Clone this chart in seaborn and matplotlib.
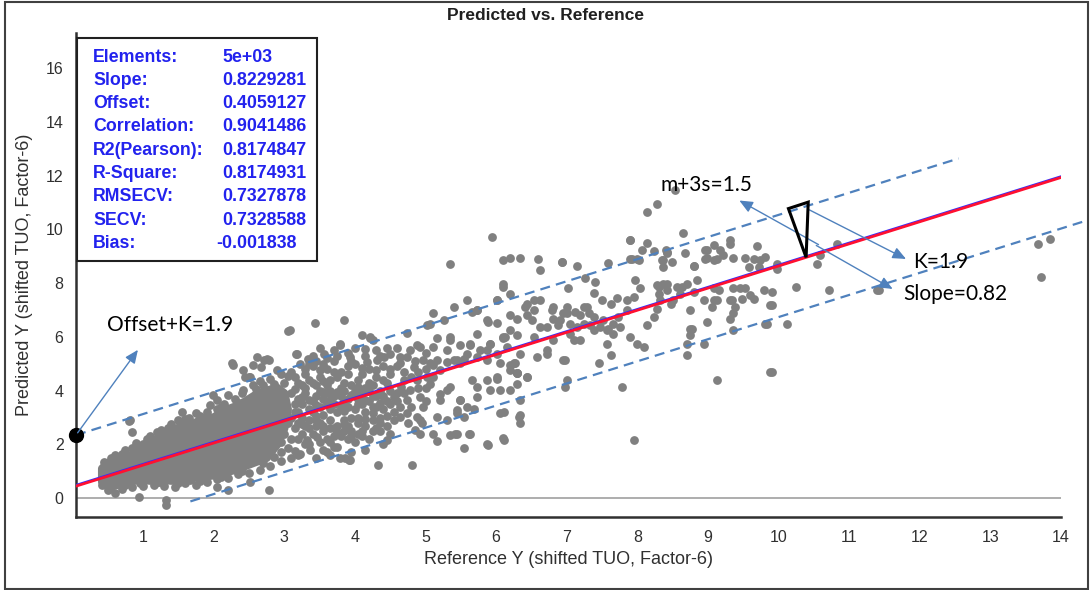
import numpy as np
import pandas as pd
import matplotlib
matplotlib.use("Agg")
import matplotlib.pyplot as plt
from matplotlib.patches import Rectangle, Polygon
import seaborn as sns

# ---- statistics shown in the info box ----
stat_names = ["Elements:", "Slope:", "Offset:", "Correlation:", "R2(Pearson):",
              "R-Square:", "RMSECV:", "SECV:", "Bias:"]
stat_values = ["5e+03", "0.8229281", "0.4059127", "0.9041486", "0.8174847",
               "0.8174931", "0.7327878", "0.7328588", "-0.001838"]

slope = 0.8229281
offset = 0.4059127
k_band = 1.9

# ---- point cloud ----
# solid core of the cloud (outline)
core_outline = [(0.42, 1.1), (0.5, 1.3), (0.65, 1.45), (0.8, 1.55), (0.95, 1.8), (1.1, 2.05),
                (1.25, 2.3), (1.4, 2.45), (1.55, 2.7), (1.7, 2.75), (1.85, 2.95), (2.0, 3.0),
                (2.15, 3.25), (2.3, 3.4), (2.45, 3.6), (2.6, 3.85), (2.75, 4.0), (2.9, 4.1),
                (3.0, 3.9), (3.05, 3.3), (3.0, 2.6), (2.9, 2.0), (2.75, 1.5), (2.6, 1.35),
                (2.45, 1.2), (2.3, 1.05), (2.15, 0.95), (2.0, 0.85), (1.85, 0.8), (1.7, 0.75),
                (1.55, 0.7), (1.4, 0.65), (1.25, 0.7), (1.1, 0.65), (0.95, 0.7), (0.8, 0.6),
                (0.65, 0.5), (0.5, 0.45), (0.42, 0.6)]

cloud_edge = [(0.45, 1.35), (0.55, 1.5), (0.7, 1.65), (0.85, 1.85), (1.0, 2.0), (1.1, 2.3),
              (1.25, 2.55), (1.4, 2.75), (1.5, 2.9), (1.65, 3.0), (1.75, 3.15), (1.9, 3.2),
              (2.05, 3.3), (2.15, 3.5), (2.3, 3.7), (2.4, 3.9), (2.55, 4.2), (2.65, 4.35),
              (2.8, 4.45), (2.95, 4.6), (3.1, 4.7), (1.55, 3.2), (1.95, 3.45), (2.5, 4.5),
              (2.2, 3.85), (0.42, 0.5), (0.5, 0.3), (0.6, 0.2), (0.7, 0.35), (0.85, 0.4),
              (1.0, 0.45), (1.15, 0.5), (1.3, 0.45), (1.45, 0.4), (1.6, 0.55), (1.75, 0.5),
              (1.9, 0.6), (2.05, 0.7), (2.2, 0.75), (2.35, 0.9), (2.5, 0.95), (2.65, 1.05),
              (2.8, 1.2), (2.95, 1.4), (3.1, 1.5), (3.2, 1.6), (0.6, 1.6), (0.75, 1.8),
              (1.05, 2.2), (1.2, 2.45), (1.35, 2.6), (1.6, 2.95), (1.8, 3.05), (2.1, 3.4),
              (2.35, 3.55), (2.6, 4.05), (2.7, 4.2), (0.55, 0.4), (0.75, 0.5), (0.95, 0.55),
              (1.2, 0.6), (1.5, 0.55), (1.8, 0.65), (2.1, 0.8), (2.4, 1.0), (2.7, 1.3),
              (2.95, 3.6), (3.0, 3.2), (3.05, 2.8), (3.0, 2.4), (2.95, 2.1), (3.1, 3.9),
              (3.15, 3.5), (3.1, 3.0), (3.15, 2.6), (3.1, 2.2), (3.05, 1.85), (3.2, 4.3),
              (3.2, 3.7), (3.2, 3.2), (3.2, 2.8), (3.2, 2.2), (3.15, 1.75), (2.95, 1.7),
              (2.85, 1.55), (3.0, 4.3), (2.85, 4.25), (3.05, 4.55)]

low_range = [(3.05, 6.22), (2.26, 5.02), (0.80, 2.87), (0.90, 2.06), (0.94, 0.03), (1.32, -0.05),
             (1.32, -0.26), (2.78, 0.32), (2.2, 0.32), (2.39, 1.30), (2.67, 4.88), (2.79, 5.13),
             (2.89, 4.76), (2.51, 4.51), (2.41, 4.01), (2.04, 3.64), (1.99, 3.83), (3.17, 5.38),
             (3.22, 5.0), (2.04, 0.42), (2.51, 0.61), (1.66, 0.67), (1.23, 0.61), (0.76, 0.92),
             (2.28, 4.94), (2.42, 4.76), (2.45, 4.51), (2.56, 4.94), (2.71, 5.13), (2.75, 5.19),
             (2.61, 5.25), (0.82, 2.90), (0.84, 2.47)]

mid_range = [(3.44, 6.52), (3.85, 6.62), (3.08, 6.25), (4.22, 5.97), (3.79, 5.69), (3.70, 5.50),
             (3.56, 5.38), (3.18, 5.38), (3.34, 5.19), (3.93, 5.25), (4.17, 5.07), (4.31, 5.13),
             (4.41, 5.25), (4.5, 5.38), (4.64, 5.25), (4.78, 5.5), (4.88, 5.69), (4.74, 6.15),
             (4.10, 6.06), (4.22, 6.0), (4.26, 5.87), (3.79, 5.75), (4.33, 1.23), (4.81, 1.23),
             (4.45, 2.16), (3.86, 1.48), (3.93, 1.41), (3.79, 1.48), (3.91, 1.41), (3.70, 1.91),
             (3.60, 1.72), (3.37, 1.78), (3.32, 2.16), (3.46, 2.28), (3.22, 1.66),
             (3.3, 4.6), (3.4, 4.9), (3.5, 4.5), (3.6, 4.8), (3.7, 5.1), (3.8, 4.7), (3.9, 4.9),
             (4.0, 5.0), (4.1, 4.6), (4.2, 4.8), (4.3, 4.5), (4.4, 4.9), (4.5, 4.6), (3.45, 5.1),
             (3.65, 4.4), (3.85, 4.3), (4.05, 4.4), (4.25, 4.2), (4.45, 4.3), (4.6, 4.9),
             (3.3, 3.9), (3.4, 3.6), (3.5, 4.0), (3.6, 3.5), (3.7, 3.8), (3.8, 3.4), (3.9, 3.7),
             (4.0, 3.3), (4.1, 3.9), (4.2, 3.6), (4.3, 3.4), (4.4, 3.8), (4.5, 3.5), (4.6, 3.9),
             (3.35, 3.3), (3.55, 3.1), (3.75, 3.2), (3.95, 3.0), (4.15, 3.2), (4.35, 3.0),
             (4.55, 3.2), (3.3, 2.7), (3.4, 2.4), (3.5, 2.8), (3.6, 2.2), (3.7, 2.6), (3.8, 2.3),
             (3.9, 2.7), (4.0, 2.1), (4.1, 2.5), (4.2, 2.2), (4.3, 2.6), (4.4, 2.0), (4.5, 2.4),
             (3.35, 2.0), (3.55, 1.8), (3.75, 1.9), (3.95, 1.7), (4.15, 1.8), (4.35, 2.5),
             (3.45, 1.5), (3.65, 1.6), (4.05, 2.8), (4.25, 2.9), (3.25, 4.2), (3.35, 4.4),
             (3.45, 4.2), (3.55, 4.35), (3.65, 4.0), (3.75, 4.5), (3.85, 4.0), (3.95, 4.2),
             (4.05, 3.7), (4.15, 4.1), (4.35, 4.0), (3.25, 3.5), (3.45, 3.8), (3.55, 3.7),
             (3.65, 3.3), (3.85, 3.6), (4.05, 3.5), (4.25, 3.4), (3.25, 3.0), (3.45, 2.9),
             (3.65, 2.9), (3.85, 2.9), (3.25, 2.4), (3.5, 2.1), (3.7, 2.3), (3.9, 2.2), (4.1, 2.3),
             (3.3, 2.0), (3.4, 3.2), (3.6, 3.9), (3.8, 3.8), (4.0, 4.0), (4.2, 4.3), (4.4, 4.4),
             (3.3, 4.1), (3.4, 4.3), (3.5, 3.4), (3.6, 4.2), (3.7, 3.5), (3.8, 4.1), (3.9, 3.4),
             (4.0, 3.8), (4.1, 3.5), (4.2, 4.0), (4.3, 3.8), (4.4, 3.3), (4.5, 4.0), (4.6, 3.6),
             (3.35, 2.6), (3.45, 2.7), (3.55, 2.5), (3.65, 2.1), (3.75, 2.7), (3.85, 2.5),
             (3.95, 2.5), (4.05, 2.4), (4.15, 2.7), (4.25, 2.5), (4.45, 2.7), (4.55, 2.9),
             (3.4, 5.3), (3.6, 5.2), (3.9, 5.4), (4.0, 5.6), (4.3, 5.5), (4.6, 5.6), (3.5, 5.6),
             (4.15, 5.3), (4.45, 5.6), (3.15, 4.05), (3.25, 3.75), (3.35, 3.65), (3.45, 3.45),
             (3.55, 3.95), (3.65, 3.65), (3.75, 3.95), (3.85, 3.25), (3.95, 3.85), (4.05, 4.15),
             (4.15, 3.65), (4.25, 3.8), (4.35, 3.55), (4.45, 3.6), (4.55, 3.75), (3.15, 3.2),
             (3.25, 2.75), (3.35, 2.9), (3.45, 3.05), (3.55, 2.7), (3.65, 2.6), (3.75, 2.45),
             (3.85, 2.75), (3.95, 2.3), (4.05, 3.0), (4.15, 2.95), (4.25, 3.15), (4.35, 2.8),
             (4.45, 3.05), (3.3, 4.8), (3.5, 4.75), (3.7, 4.7), (3.9, 4.6), (4.1, 4.85),
             (4.3, 4.75), (4.5, 4.8), (3.15, 4.5), (3.35, 5.0), (3.55, 5.0), (3.75, 5.3),
             (3.95, 5.1), (4.15, 5.55), (4.35, 5.3)]

upper_range = [(4.64, 5.01), (4.74, 5.25), (4.83, 4.88), (4.69, 4.39), (4.78, 4.01), (4.92, 3.77),
               (4.97, 3.39), (4.88, 3.02), (4.74, 3.15), (5.11, 5.62), (5.16, 5.13), (5.21, 4.76),
               (5.30, 5.50), (5.35, 6.0), (5.40, 5.13), (5.49, 5.01), (5.59, 5.38), (5.63, 5.69),
               (5.73, 6.12), (5.77, 5.50), (5.87, 5.13), (5.92, 5.75), (6.01, 5.38), (6.06, 5.01),
               (6.10, 6.0), (6.15, 5.62), (6.20, 4.76), (6.25, 5.01), (6.29, 4.64), (6.34, 5.38),
               (6.44, 4.51), (6.29, 4.26), (6.01, 4.51), (6.06, 4.01), (5.87, 4.39), (5.73, 4.14),
               (5.66, 4.39), (5.68, 3.33), (5.49, 3.64), (5.44, 3.27), (5.54, 3.02), (5.21, 3.64),
               (5.16, 3.02), (5.30, 4.01), (5.02, 4.51), (5.07, 5.01), (4.92, 5.62), (5.26, 6.62),
               (5.11, 6.87), (5.40, 7.11), (5.59, 7.36), (5.73, 6.99), (5.87, 6.62), (6.01, 7.36),
               (6.20, 7.61), (6.44, 7.24), (6.53, 6.99), (6.62, 7.36), (6.81, 7.11), (6.91, 6.62),
               (7.0, 6.87), (7.05, 6.12), (7.14, 6.37), (7.24, 6.49), (7.38, 6.74), (7.47, 6.37),
               (7.57, 6.25), (7.66, 6.49), (7.29, 7.11), (6.72, 6.37), (6.81, 5.87), (7.10, 5.87),
               (6.53, 6.0), (6.58, 5.25), (6.72, 5.50), (6.95, 5.13), (7.0, 4.39), (7.19, 5.87),
               (5.34, 8.70), (6.10, 8.85), (6.2, 8.95), (6.10, 7.98), (6.10, 7.86), (6.01, 7.36),
               (5.66, 6.93), (5.73, 6.99), (5.89, 6.55), (6.01, 6.52), (6.2, 6.8), (6.3, 6.68),
               (5.02, 6.43), (5.07, 6.49), (5.16, 5.94), (5.35, 5.87), (5.49, 5.69), (5.63, 5.75),
               (5.92, 5.75), (6.1, 5.94), (6.2, 6.25), (6.3, 6.06), (4.97, 5.13), (5.11, 4.94),
               (5.30, 5.07), (5.44, 5.13), (5.54, 5.19), (5.73, 5.25), (5.87, 5.5), (4.88, 4.39),
               (5.07, 4.26), (5.21, 3.89), (5.35, 4.14), (5.49, 3.64), (5.59, 3.39), (5.73, 3.77),
               (6.01, 4.45), (5.92, 4.01), (4.95, 2.78), (5.30, 2.90), (5.44, 3.15), (5.11, 2.40),
               (5.16, 2.13), (5.35, 2.34), (5.44, 2.40), (5.63, 2.40), (5.54, 1.85), (5.87, 2.03),
               (6.1, 2.22), (6.06, 3.15), (6.2, 4.94), (6.3, 4.64), (6.2, 4.01), (6.34, 3.09),
               (6.34, 2.78), (5.89, 1.97), (4.64, 3.39), (4.64, 3.02), (4.74, 3.64), (4.92, 2.40),
               (5.42, 2.40), (5.61, 2.40), (4.92, 2.90), (5.94, 9.71), (4.7, 4.7), (4.8, 4.5),
               (4.9, 4.7), (5.0, 4.8), (4.7, 3.9), (4.8, 3.4), (4.9, 4.1), (5.0, 3.6), (5.1, 4.5),
               (4.75, 2.8), (4.85, 2.55), (5.0, 4.1), (4.65, 4.15), (4.85, 5.1), (5.0, 5.4)]

high_range = [(8.28, 10.93), (8.14, 10.64), (8.65, 9.86), (7.90, 9.59), (8.14, 9.49), (8.06, 9.24),
              (8.23, 9.19), (8.42, 9.16), (7.92, 8.91), (8.02, 8.87), (8.37, 8.85), (8.49, 8.78),
              (7.59, 8.75), (7.14, 8.65), (6.93, 8.78), (6.6, 8.91), (6.62, 8.48), (6.34, 8.95),
              (7.26, 8.20), (7.40, 8.04), (7.02, 7.80), (7.38, 7.63), (7.5, 7.36), (7.62, 7.24),
              (7.71, 7.46), (7.85, 7.36), (7.95, 7.48), (8.04, 7.80), (7.97, 8.10), (8.28, 7.92),
              (8.37, 7.98), (8.30, 7.61), (8.42, 7.73), (8.63, 7.86), (8.70, 7.98), (8.84, 8.13),
              (8.8, 8.62), (8.99, 9.22), (9.08, 9.41), (9.17, 9.22), (8.96, 8.91), (9.08, 8.85),
              (9.15, 7.73), (9.08, 7.36), (8.94, 7.36), (9.06, 7.11), (6.41, 7.11), (6.44, 6.80),
              (6.51, 6.62), (6.53, 7.36), (6.62, 6.37), (6.79, 6.99), (6.81, 6.68), (6.88, 6.43),
              (6.95, 6.87), (7.0, 7.11), (7.05, 6.49), (7.12, 6.93), (7.19, 6.80), (7.24, 7.11),
              (7.31, 6.87), (7.33, 6.43), (7.38, 6.25), (7.52, 6.62), (7.59, 6.31), (7.66, 6.12),
              (7.73, 6.74), (7.76, 6.37), (7.85, 6.99), (7.90, 6.0), (7.99, 5.75), (8.09, 5.62),
              (8.14, 6.43), (8.23, 6.74), (8.28, 7.05), (8.32, 7.36), (8.47, 7.24), (8.51, 7.36),
              (8.61, 7.61), (8.75, 6.99), (8.77, 6.31), (8.75, 6.06), (8.70, 5.75), (6.13, 6.0),
              (6.27, 5.01), (6.29, 4.64), (6.44, 4.51), (6.98, 5.13), (6.98, 4.14), (7.45, 5.01),
              (7.62, 5.32), (7.78, 4.14), (7.57, 5.75), (6.72, 5.38), (6.34, 3.64), (6.11, 3.21),
              (6.32, 3.02), (6.11, 2.18), (7.95, 2.18), (9.13, 4.39), (8.70, 5.32), (9.88, 4.7),
              (10.12, 6.49), (9.84, 6.49), (9.88, 7.17), (9.36, 6.87), (9.31, 7.36), (8.99, 6.55),
              (8.75, 6.31), (10.24, 7.86), (9.6, 7.55), (9.46, 7.80), (9.08, 7.80), (9.13, 7.36),
              (8.80, 7.67), (8.56, 7.86), (8.42, 7.98), (8.30, 7.86), (8.94, 5.75), (8.54, 11.45),
              (7.90, 9.62), (8.40, 9.22), (8.42, 9.10), (8.68, 9.10), (6.94, 8.78), (7.90, 8.91),
              (8.0, 8.91), (8.35, 8.85), (8.37, 8.60), (8.80, 8.64), (8.96, 9.24), (9.31, 9.62),
              (9.31, 9.47), (9.69, 9.38), (8.99, 8.95), (9.13, 8.91), (9.22, 9.03), (9.36, 8.95),
              (9.53, 8.95), (9.65, 8.91), (9.74, 8.85), (9.81, 8.97), (9.58, 8.60), (9.72, 8.60),
              (9.98, 8.72), (9.98, 8.54), (9.36, 7.80), (9.53, 7.80), (9.65, 7.42), (9.79, 7.73),
              (9.91, 7.67), (9.91, 7.17), (9.48, 7.42), (9.34, 7.36), (9.39, 7.11), (9.31, 6.68),
              (9.81, 6.49), (9.36, 6.25), (9.91, 4.70)]

far_range = [(10.83, 9.44), (10.59, 9.03), (10.54, 8.70), (10.71, 7.73), (11.39, 7.73),
             (11.42, 7.76), (13.68, 9.47), (13.85, 9.65), (13.71, 8.23)]

# ---- build a table ----
groups = [cloud_edge, low_range, mid_range, upper_range, high_range, far_range]
pts = [p for g in groups for p in g]
df = pd.DataFrame(pts, columns=["ref", "pred"])

sns.set_style("white")
plt.rcParams["font.family"] = ["Liberation Sans", "DejaVu Sans"]

W, H = 1091, 590
fig = plt.figure(figsize=(W / 100, H / 100), dpi=100)
ax = fig.add_axes([76 / W, 73 / H, 985 / W, 484 / H])

gray = "#808080"
core = Polygon(core_outline, closed=True, facecolor=gray, edgecolor=gray,
               linewidth=6, joinstyle="round", zorder=2)
ax.add_patch(core)
sns.scatterplot(data=df, x="ref", y="pred", ax=ax, color=gray, s=40,
                linewidth=0, legend=False, zorder=2)

# zero line
ax.plot([0.05, 14.0], [0, 0], color="#a0a0a0", lw=1.2, zorder=1)

# regression lines
xs = np.array([0.05, 14.0])
sns.lineplot(x=xs, y=offset + slope * xs + 0.03, ax=ax, color="#3030ff", lw=2.0, zorder=4)
sns.lineplot(x=xs, y=offset + slope * xs, ax=ax, color="#ff1030", lw=2.0, zorder=5)

# +/- K band
band_col = "#4F81BD"
xu = np.array([0.05, 12.55])
xl = np.array([1.67, 14.3])
ax.plot(xu, offset + k_band + slope * xu, color=band_col, lw=1.6,
        dashes=(4.5, 2.8), zorder=3, clip_on=False)
ax.plot(xl, offset - k_band + slope * xl, color=band_col, lw=1.6,
        dashes=(4.5, 2.8), zorder=3, clip_on=False)

# black dot at intercept of upper band
dot_y = offset + k_band + slope * 0.05
ax.plot([0.05], [dot_y], "o", color="black", ms=10, zorder=6, clip_on=False)

# annotations
arrow_kw = dict(arrowstyle="-|>,head_length=0.8,head_width=0.35", color=band_col, lw=1.0)
note_font = dict(family=["Lato", "DejaVu Sans"], fontsize=15, color="black")
ax.annotate("", xy=(0.95, 5.6), xytext=(0.05, dot_y), arrowprops=arrow_kw, zorder=6)
ax.text(0.49, 6.43, "Offset+K=1.9", ha="left", va="center", **note_font)

ax.annotate("", xy=(9.41, 11.12), xytext=(10.6, 9.38), arrowprops=arrow_kw, zorder=6)
ax.annotate("", xy=(11.65, 7.73), xytext=(10.5, 9.45), arrowprops=arrow_kw, zorder=6)
ax.annotate("", xy=(11.84, 8.85), xytext=(10.40, 10.77), arrowprops=arrow_kw, zorder=6)
ax.text(8.33, 11.64, "m+3s=1.5", ha="left", va="center", **note_font)
ax.text(11.91, 8.77, "K=1.9", ha="left", va="center", **note_font)
ax.text(11.77, 7.58, "Slope=0.82", ha="left", va="center", **note_font)

wedge = Polygon([(10.14, 10.77), (10.42, 11.01), (10.39, offset + slope * 10.39)],
                closed=True, fill=False, edgecolor="black", lw=2.2, zorder=7)
ax.add_patch(wedge)

# axes styling
ax.set_xlim(0.05, 14.0)
ax.set_ylim(-0.7, 17.3)
ax.set_xticks(range(1, 15))
ax.set_xticks(np.arange(0.5, 14.01, 1.0), minor=True)
ax.set_yticks(range(0, 17, 2))
ax.set_yticks(range(1, 18, 2), minor=True)
for s in ["top", "right"]:
    ax.spines[s].set_visible(False)
for s in ["left", "bottom"]:
    ax.spines[s].set_color("#303030")
    ax.spines[s].set_linewidth(1.8)
ax.tick_params(which="major", direction="out", length=5, width=1.3, colors="#303030",
               labelsize=11.5, labelcolor="#303030", pad=4)
ax.tick_params(which="minor", direction="out", length=3, width=1.1, colors="#303030")
ax.set_xlabel("Reference Y (shifted TUO, Factor-6)", fontsize=13, color="#303030", labelpad=5)
ax.set_ylabel("Predicted Y (shifted TUO, Factor-6)", fontsize=13, color="#303030", labelpad=9)

fig.text(0.5, 1 - 15 / H, "Predicted vs. Reference", ha="center", va="center",
         fontsize=12.5, fontweight="bold", color="#202020")

# info box
fig.patches.append(Rectangle((77 / W, 1 - 261 / H), 240 / W, 223 / H, transform=fig.transFigure,
                             fill=True, facecolor="white", edgecolor="#202020", lw=1.5, zorder=10))
for i, (name, val) in enumerate(zip(stat_names, stat_values)):
    yy = 1 - (57 + 23.3 * i) / H
    fig.text(93 / W, yy, name, ha="left", va="center", fontsize=12.8, fontweight="bold",
             color="#2222ee", zorder=11)
    vx = 216 if val.startswith("-") else 222
    fig.text(vx / W, yy, val, ha="left", va="center", fontsize=12.8, fontweight="bold",
             color="#2222ee", zorder=11)

# outer frame
fig.patches.append(Rectangle((5 / W, 1 / H), 1083 / W, 587 / H, transform=fig.transFigure,
                             fill=False, edgecolor="#404040", lw=1.5))

fig.savefig("out.png", dpi=100)
